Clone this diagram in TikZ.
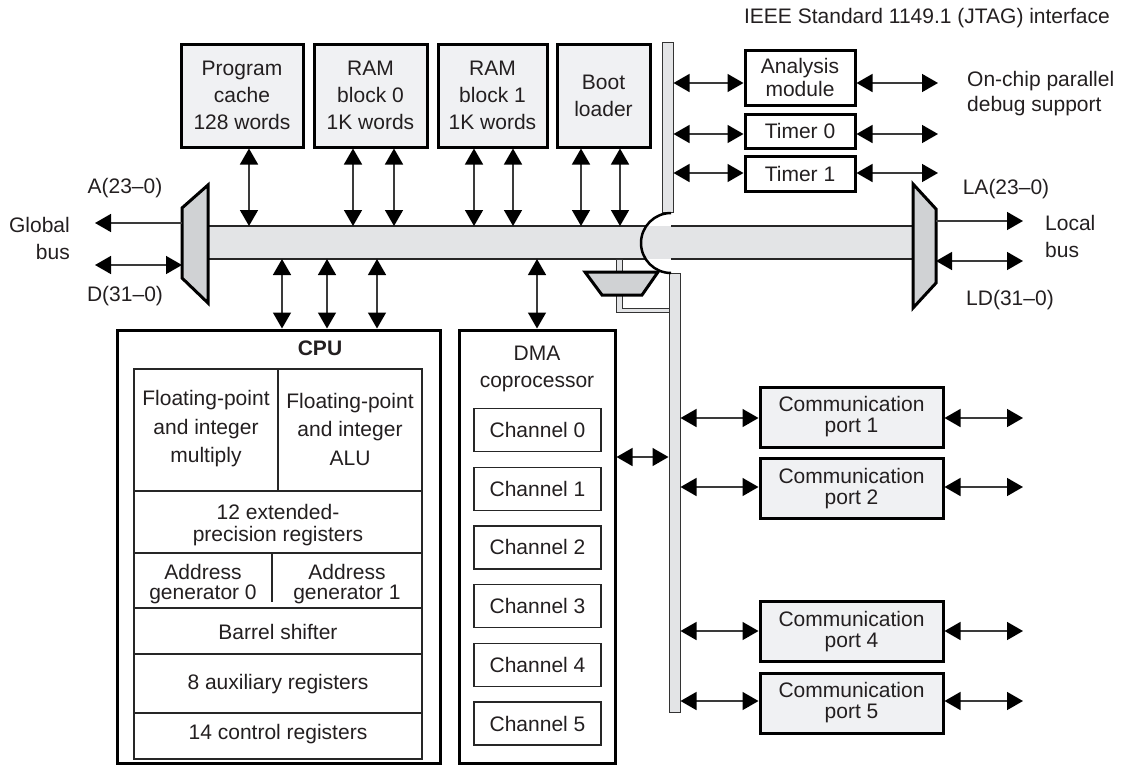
\documentclass[tikz,border=0pt]{standalone}
\usepackage{fontspec}
\setmainfont{Liberation Sans}
\usetikzlibrary{arrows.meta}
\definecolor{txt}{HTML}{231F20}
\definecolor{boxfill}{HTML}{F0F1F3}
\definecolor{busfill}{HTML}{E3E4E6}
\definecolor{muxfill}{HTML}{D0D2D4}
\definecolor{arr}{HTML}{3A3A3A}
\newcommand{\fsz}[1]{\fontsize{21}{#1}\selectfont}
\begin{document}
\begin{tikzpicture}[x=1pt,y=-1pt,
  every node/.style={text=txt, font=\fsz{26}, inner sep=0pt, align=center},
  >={Triangle[length=16pt,width=18pt,color=black]},
  memb/.style={draw=black, line width=3pt, fill=boxfill, font=\fsz{27}},
  wbox/.style={draw=black, line width=3pt, fill=white},
  portb/.style={draw=black, line width=3pt, fill=boxfill, font=\fsz{21},
     minimum width=183pt, minimum height=60pt},
  chan/.style={draw=black!85, line width=1.2pt, fill=white,
     minimum width=127pt, minimum height=43pt},
  thinl/.style={draw=black!85, line width=1.2pt},
  barb/.style={draw=black!80, line width=1pt, fill=busfill},
  mux/.style={draw=black, line width=3pt, fill=muxfill, line join=miter},
  conn/.style={draw=arr, line width=1.5pt},
  ]
\useasboundingbox (0,0) rectangle (1121,766);

% ---------- memory blocks ----------
\node[memb, minimum width=122pt, minimum height=103pt] (pc) at (242,95.5)
  {Program\\cache\\128 words};
\node[memb, minimum width=113pt, minimum height=103pt] (r0) at (370.5,95.5)
  {RAM\\block 0\\1K words};
\node[memb, minimum width=109pt, minimum height=103pt] (r1) at (492.5,95.5)
  {RAM\\block 1\\1K words};
\node[memb, minimum width=93pt, minimum height=103pt] (bl) at (603.5,95.5)
  {Boot\\loader};

% ---------- global bus ----------
\coordinate (busT) at (0,226);
\coordinate (busB) at (0,259);
\fill[busfill] (208,226) rectangle (913,259);
\draw[thinl] (208,226) -- (646.3,226) (671,226) -- (913,226);
\draw[thinl] (208,259) -- (645.6,259) (671,259) -- (913,259);

% vertical bars
\node[barb, minimum width=11pt, minimum height=170pt] (ubar) at (667.5,127) {};
\node[barb, minimum width=11pt, minimum height=439pt] (lbar) at (674.5,492.5) {};
% crossing arc
\draw[black, line width=2.5pt] (671,213) arc[start angle=90, end angle=270, radius=30pt];

% small multiplexer and its links
\draw[barb] (616,259) rectangle (622,272);
\draw[barb] (616,295) -- (616,312) -- (669,312) -- (669,308) -- (622,308) -- (622,295);
\draw[mux] (585,272) -- (658,272) -- (642,295) -- (602,295) -- cycle;

% left and right multiplexers
\draw[mux] (182,208) -- (208,185) -- (208,303) -- (182,278) -- cycle;
\draw[mux] (913,184) -- (936,209) -- (936,283) -- (913,308) -- cycle;
\coordinate (gmA) at (182,223);
\coordinate (gA) at (95,223);
\coordinate (gmD) at (182,265);
\coordinate (gD) at (95,265);
\coordinate (lmA) at (936,221);
\coordinate (lA) at (1023,221);
\coordinate (lmD) at (936,261);
\coordinate (lD) at (1023,261);
\draw[conn,->] (gmA) -- (gA);
\draw[conn,<->] (gD) -- (gmD);
\draw[conn,->] (lmA) -- (lA);
\draw[conn,<->] (lmD) -- (lD);

\node (glab) [anchor=east, align=right, font=\fsz{27}] at (70,238.5) {Global\\bus};
\node (llab) [anchor=west, align=left, font=\fsz{27}] at (1045,236.5) {Local\\bus};
\node (alab) at (125,188) {A(23--0)};
\node (dlab) at (125,296) {D(31--0)};
\node (lalab) at (1006,189) {LA(23--0)};
\node (ldlab) at (1010,300) {LD(31--0)};

% memory to bus arrows
\draw[conn,<->] ([xshift=7pt]pc.south) -- ([xshift=7pt]pc.south |- busT);
\draw[conn,<->] ([xshift=-17.5pt]r0.south) -- ([xshift=-17.5pt]r0.south |- busT);
\draw[conn,<->] ([xshift=23.5pt]r0.south) -- ([xshift=23.5pt]r0.south |- busT);
\draw[conn,<->] ([xshift=-18.5pt]r1.south) -- ([xshift=-18.5pt]r1.south |- busT);
\draw[conn,<->] ([xshift=20.5pt]r1.south) -- ([xshift=20.5pt]r1.south |- busT);
\draw[conn,<->] ([xshift=-22.5pt]bl.south) -- ([xshift=-22.5pt]bl.south |- busT);
\draw[conn,<->] ([xshift=16.5pt]bl.south) -- ([xshift=16.5pt]bl.south |- busT);

% ---------- CPU ----------
\node[wbox, minimum width=323pt, minimum height=433pt] (cpu) at (278.5,546.5) {};
\node[font=\fsz{26}\bfseries] (cpul) at (320,348) {CPU};
\draw[thinl] (134,369) rectangle (422,759);
\draw[thinl] (134,491) -- (422,491);
\draw[thinl] (134,553) -- (422,553);
\draw[thinl] (134,608) -- (422,608);
\draw[thinl] (134,654) -- (422,654);
\draw[thinl] (134,713) -- (422,713);
\draw[thinl] (278,369) -- (278,491);
\draw[thinl] (272,553) -- (272,602);
\node[font=\fsz{28.5}] (fpm) at (206,429) {Floating-point\\and integer\\multiply};
\node[font=\fsz{28.5}] (fpa) at (350,429) {Floating-point\\and integer\\ALU};
\node[font=\fsz{22}] (ext) at (278,525) {12 extended-\\precision registers};
\node[font=\fsz{19.5}] (ag0) at (203,584) {Address\\generator 0};
\node[font=\fsz{19.5}] (ag1) at (347,584) {Address\\generator 1};
\node (bs) at (278,632) {Barrel shifter};
\node (aux) at (278,684) {8 auxiliary registers};
\node (ctl) at (278,734) {14 control registers};

\coordinate (cx1) at (282,0);
\coordinate (cx2) at (327,0);
\coordinate (cx3) at (377,0);
\draw[conn,<->] (cx1 |- busB) -- (cx1 |- cpu.north);
\draw[conn,<->] (cx2 |- busB) -- (cx2 |- cpu.north);
\draw[conn,<->] (cx3 |- busB) -- (cx3 |- cpu.north);

% ---------- DMA ----------
\node[wbox, minimum width=156pt, minimum height=433pt] (dma) at (537,546.5) {};
\node[font=\fsz{27}] (dmal) at (537,369) {DMA\\coprocessor};
\node[chan] (ch0) at (537.5,430) {Channel 0};
\node[chan] (ch1) at (537.5,488.7) {Channel 1};
\node[chan] (ch2) at (537.5,547.4) {Channel 2};
\node[chan] (ch3) at (537.5,606.1) {Channel 3};
\node[chan] (ch4) at (537.5,664.8) {Channel 4};
\node[chan] (ch5) at (537.5,723.5) {Channel 5};
\draw[conn,<->] (dma.north |- busB) -- (dma.north);
\coordinate (ydma) at (0,457);
\draw[conn,<->] (dma.east |- ydma) -- (lbar.west |- ydma);

% ---------- JTAG side ----------
\node (jtag) at (927,18) {IEEE Standard 1149.1 (JTAG) interface};
\node[wbox, minimum width=110pt, minimum height=55pt, font=\fsz{23}] (an) at (800,77.5) {Analysis\\module};
\node[wbox, minimum width=110pt, minimum height=34pt] (t0) at (800,131) {Timer 0};
\node[wbox, minimum width=110pt, minimum height=35pt] (t1) at (800,173.5) {Timer 1};
\node[anchor=west, align=left, font=\fsz{25}] (dbg) at (967,94) {On-chip parallel\\debug support};
\coordinate (ya) at (0,83);
\coordinate (yt0) at (0,134);
\coordinate (yt1) at (0,173);
\coordinate (xo) at (938,0);
\draw[conn,<->] (ubar.east |- ya) -- (an.west |- ya);
\draw[conn,<->] (an.east |- ya) -- (xo |- ya);
\draw[conn,<->] (ubar.east |- yt0) -- (t0.west |- yt0);
\draw[conn,<->] (t0.east |- yt0) -- (xo |- yt0);
\draw[conn,<->] (ubar.east |- yt1) -- (t1.west |- yt1);
\draw[conn,<->] (t1.east |- yt1) -- (xo |- yt1);

% ---------- communication ports ----------
\node[portb] (p1) at (851.5,417) {Communication\\port 1};
\node[portb] (p2) at (851.5,488.5) {Communication\\port 2};
\node[portb] (p4) at (851.5,631.5) {Communication\\port 4};
\node[portb] (p5) at (851.5,703) {Communication\\port 5};
\coordinate (xp) at (1023,0);
\coordinate (y1) at (0,418);
\coordinate (y2) at (0,487);
\coordinate (y4) at (0,631);
\coordinate (y5) at (0,701);
\foreach \p/\y in {p1/y1,p2/y2,p4/y4,p5/y5}{
  \draw[conn,<->] (lbar.east |- \y) -- (\p.west |- \y);
  \draw[conn,<->] (\p.east |- \y) -- (xp |- \y);
}
\end{tikzpicture}
\end{document}
